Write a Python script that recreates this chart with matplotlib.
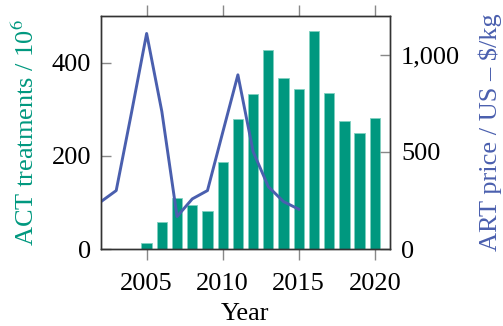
import matplotlib
matplotlib.use("Agg")
import matplotlib.pyplot as plt
from matplotlib.ticker import FuncFormatter

years_act = [2005, 2006, 2007, 2008, 2009, 2010, 2011, 2012, 2013, 2014, 2015,
             2016, 2017, 2018, 2019, 2020]
act = [12, 57, 110, 95, 82, 187, 279, 333, 428, 366, 344, 467, 335, 274, 248, 282]

years_art = [2002, 2003, 2004, 2005, 2006, 2007, 2008, 2009, 2010, 2011, 2012,
             2013, 2014, 2015]
art = [244, 301, 700, 1110, 708, 167, 258, 301, 600, 897, 502, 321, 244, 205]

teal = "#00987f"
blue = "#4a5fae"
fs = 19

plt.rcParams["font.family"] = ["Liberation Serif", "DejaVu Serif"]
plt.rcParams["mathtext.fontset"] = "stix"

fig, ax = plt.subplots(figsize=(5.03, 3.26), dpi=100)
fig.subplots_adjust(left=101 / 503, right=390 / 503, top=1 - 16 / 326, bottom=1 - 249 / 326)

ax.bar(years_act, act, width=0.68, color=teal, edgecolor="#7fd0c0", linewidth=0.6)
ax.set_xlim(2002, 2021)
ax.set_ylim(0, 500)
ax.set_xticks([2005, 2010, 2015, 2020])
ax.set_yticks([0, 200, 400])
ax.set_xlabel("Year", fontsize=fs)
ax.xaxis.set_label_coords(0.5, -54 / 233)
ax.set_ylabel(r"ACT treatments / 10$^6$", color=teal, fontsize=fs)
ax.yaxis.set_label_coords(-62 / 289, 0.5)
ax.tick_params(axis="x", direction="out", top=True, length=8, width=1, color="#888888",
               labelsize=fs, pad=9)
ax.tick_params(axis="y", direction="in", length=7, width=1, color="#888888", labelsize=fs,
               pad=7)

ax2 = ax.twinx()
ax2.plot(years_art, art, color=blue, linewidth=2.1)
ax2.set_ylim(0, 1200)
ax2.set_yticks([0, 500, 1000])
ax2.yaxis.set_major_formatter(FuncFormatter(lambda v, p: f"{int(v):,}"))
ax2.set_ylabel("ART price / US – $/kg", color=blue, fontsize=fs)
ax2.yaxis.set_label_coords(1 + 88 / 289, 0.5)
ax2.tick_params(axis="y", direction="in", length=7, width=1, color="#888888", labelsize=fs,
                pad=8)

for a in (ax, ax2):
    for s in a.spines.values():
        s.set_color("#333333")
        s.set_linewidth(1)

fig.savefig("out.png", dpi=100)
